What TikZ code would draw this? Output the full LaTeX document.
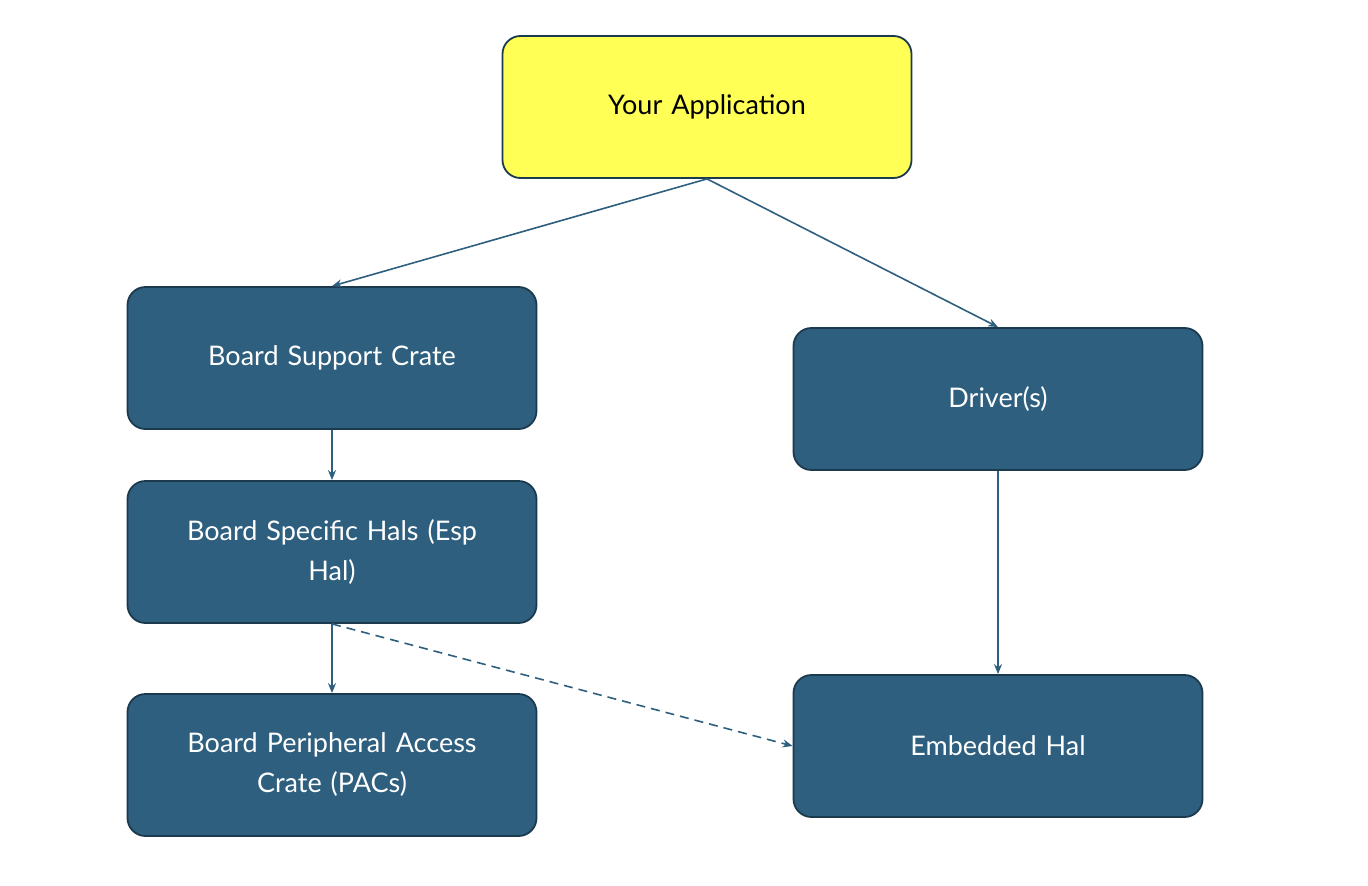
\documentclass[tikz,border=0pt]{standalone}
\usepackage{fontspec}
\setmainfont{Lato}
\usetikzlibrary{arrows.meta}
\definecolor{boxfill}{HTML}{2E5F7F}
\definecolor{boxline}{HTML}{1C3A4E}
\definecolor{appfill}{HTML}{FFFF55}
\definecolor{arr}{HTML}{2E5F7F}
\begin{document}
\begin{tikzpicture}[x=1pt,y=-1pt,
  box/.style={draw=boxline,line width=1.8pt,fill=boxfill,rounded corners=18pt,
    minimum width=409pt,minimum height=142pt,text width=380pt,align=center,
    text=white,font=\fontsize{27}{40}\selectfont,inner sep=0pt},
  app/.style={box,fill=appfill,text=black},
  con/.style={draw=arr,line width=1.6pt,-{Stealth[length=10pt,width=8pt]}}]
\useasboundingbox (0,0) rectangle (1368,886);
\node[app] (app) at (707,107) {Your Application};
\node[box] (bsc) at (332,358) {Board Support Crate};
\node[box] (bsh) at (332,552) {Board Specific Hals (Esp\\Hal)};
\node[box] (pac) at (332,765) {Board Peripheral Access\\Crate (PACs)};
\node[box] (drv) at (998,399) {Driver(s)};
\node[box] (eh) at (998,746) {Embedded Hal};
\draw[con] (app.south) -- (bsc.north);
\draw[con] (app.south) -- (drv.north);
\draw[con] (bsc.south) -- (bsh.north);
\draw[con] (bsh.south) -- (pac.north);
\draw[con] (drv.south) -- (eh.north);
\draw[con,dash pattern=on 9pt off 6pt] (bsh.south) -- (eh.west);
\end{tikzpicture}
\end{document}
